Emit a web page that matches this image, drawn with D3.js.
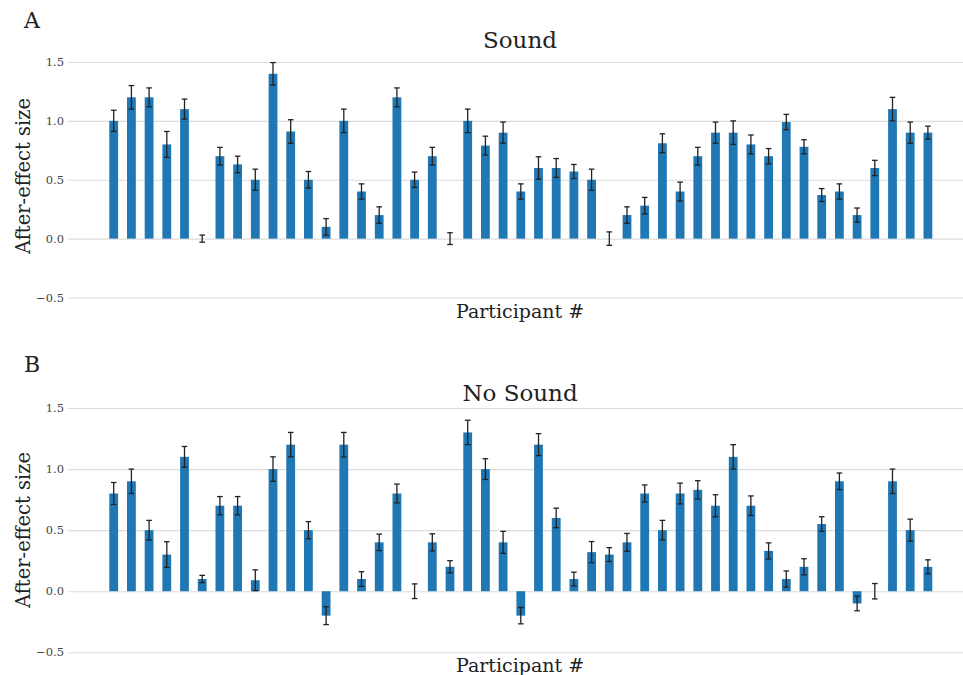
<!DOCTYPE html>
<html>
<head>
<meta charset="utf-8">
<script src="https://cdn.jsdelivr.net/npm/d3@7"></script>
<style>
  body { margin: 0; background: #fff; }
  svg text { font-family: "DejaVu Serif", serif; }
</style>
</head>
<body>
<div class="canvas"></div>
<script>
// after-effect sizes per participant
const soundMean = [1.0, 1.2, 1.2, 0.8, 1.1, 0.0, 0.7, 0.63, 0.5, 1.4, 0.91, 0.5, 0.1, 1.0, 0.4, 0.2,
  1.2, 0.5, 0.7, 0.0, 1.0, 0.79, 0.9, 0.4, 0.6, 0.6, 0.57, 0.5, 0.0, 0.2, 0.28, 0.81, 0.4, 0.7,
  0.9, 0.9, 0.8, 0.7, 0.99, 0.78, 0.37, 0.4, 0.2, 0.6, 1.1, 0.9, 0.9]
const soundErr = [0.09, 0.1, 0.08, 0.11, 0.085, 0.03, 0.075, 0.07, 0.09, 0.095, 0.1, 0.07, 0.07, 0.1,
  0.065, 0.07, 0.08, 0.065, 0.075, 0.05, 0.1, 0.08, 0.09, 0.065, 0.095, 0.08, 0.06, 0.09, 0.057,
  0.07, 0.07, 0.08, 0.08, 0.075, 0.09, 0.1, 0.08, 0.065, 0.065, 0.06, 0.055, 0.065, 0.06, 0.065,
  0.1, 0.09, 0.055]
const noSoundMean = [0.8, 0.9, 0.5, 0.3, 1.1, 0.1, 0.7, 0.7, 0.09, 1.0, 1.2, 0.5, -0.2, 1.2, 0.1, 0.4,
  0.8, 0.0, 0.4, 0.2, 1.3, 1.0, 0.4, -0.2, 1.2, 0.6, 0.1, 0.32, 0.3, 0.4, 0.8, 0.5, 0.8, 0.83,
  0.7, 1.1, 0.7, 0.33, 0.1, 0.2, 0.55, 0.9, -0.1, 0.0, 0.9, 0.5, 0.2]
const noSoundErr = [0.09, 0.1, 0.08, 0.105, 0.085, 0.03, 0.075, 0.075, 0.085, 0.1, 0.1, 0.07, 0.073,
  0.1, 0.06, 0.067, 0.077, 0.06, 0.07, 0.05, 0.1, 0.085, 0.09, 0.067, 0.09, 0.08, 0.056, 0.087,
  0.057, 0.073, 0.07, 0.08, 0.085, 0.075, 0.09, 0.1, 0.08, 0.066, 0.066, 0.066, 0.06, 0.068, 0.06,
  0.063, 0.1, 0.09, 0.057]
const yTicks = [-0.5, 0, 0.5, 1.0, 1.5]
const yTickLabels = ['\u22120.5', '0.0', '0.5', '1.0', '1.5']

const W = 963, H = 675
const gridLeft = 68, gridRight = 963
const barColor = '#1f77b4'

const svg = d3.select('.canvas').append('svg')
  .attr('width', W)
  .attr('height', H)

const x = d3.scaleLinear()
  .domain([0, soundMean.length - 1])
  .range([113.7, 927.9])
const barW = 8.8

const panels = [
  {letter: 'A', title: 'Sound', mean: soundMean, err: soundErr,
    yRange: [297.5, 62], letterY: 28, titleY: 48, labelY: 318, ylabY: 176},
  {letter: 'B', title: 'No Sound', mean: noSoundMean, err: noSoundErr,
    yRange: [652.3, 408], letterY: 372, titleY: 401, labelY: 672, ylabY: 530}
]

panels.forEach(p => {
  const y = d3.scaleLinear().domain([-0.5, 1.5]).range(p.yRange)
  const g = svg.append('g')

  // gridlines + tick labels
  const axis = d3.axisLeft(y)
    .tickValues(yTicks)
    .tickFormat((d, i) => yTickLabels[i])
    .tickSize(-(gridRight - gridLeft))
    .tickPadding(4)
  const ax = g.append('g')
    .attr('transform', `translate(${gridLeft},0)`)
    .call(axis)
    .attr('font-family', '"DejaVu Serif", serif')
  ax.select('.domain').remove()
  ax.selectAll('.tick line').attr('stroke', '#dcdcdc').attr('stroke-width', 1.1)
  ax.selectAll('.tick text')
    .attr('fill', '#444')
    .style('font-size', '11.5px')
    .style('font-family', '"DejaVu Serif", serif')

  // bars
  g.selectAll('rect.bar')
    .data(p.mean)
    .enter()
      .append('rect')
      .attr('class', 'bar')
      .attr('x', (d, i) => x(i) - barW / 2)
      .attr('y', d => y(Math.max(0, d)))
      .attr('width', barW)
      .attr('height', d => Math.abs(y(d) - y(0)))
      .attr('fill', barColor)

  // error bars
  const eb = g.selectAll('g.err')
    .data(p.mean.map((m, i) => ({m: m, e: p.err[i], i: i})))
    .enter()
      .append('g')
      .attr('class', 'err')
      .attr('stroke', '#222')
      .attr('stroke-width', 1.3)
  eb.append('line')
    .attr('x1', d => x(d.i)).attr('x2', d => x(d.i))
    .attr('y1', d => y(d.m - d.e)).attr('y2', d => y(d.m + d.e))
  eb.append('line')
    .attr('x1', d => x(d.i) - 2.8).attr('x2', d => x(d.i) + 2.8)
    .attr('y1', d => y(d.m + d.e)).attr('y2', d => y(d.m + d.e))
  eb.append('line')
    .attr('x1', d => x(d.i) - 2.8).attr('x2', d => x(d.i) + 2.8)
    .attr('y1', d => y(d.m - d.e)).attr('y2', d => y(d.m - d.e))

  // texts
  g.append('text')
    .attr('x', 24).attr('y', p.letterY)
    .attr('fill', '#222')
    .style('font-size', '22px')
    .text(p.letter)
  g.append('text')
    .attr('x', 520).attr('y', p.titleY)
    .attr('text-anchor', 'middle')
    .attr('fill', '#222')
    .style('font-size', '23px')
    .text(p.title)
  g.append('text')
    .attr('x', 520).attr('y', p.labelY)
    .attr('text-anchor', 'middle')
    .attr('fill', '#222')
    .style('font-size', '19px')
    .text('Participant #')
  g.append('text')
    .attr('transform', `translate(30,${p.ylabY}) rotate(-90)`)
    .attr('text-anchor', 'middle')
    .attr('fill', '#222')
    .style('font-size', '19.5px')
    .text('After-effect size')
})
</script>
</body>
</html>
